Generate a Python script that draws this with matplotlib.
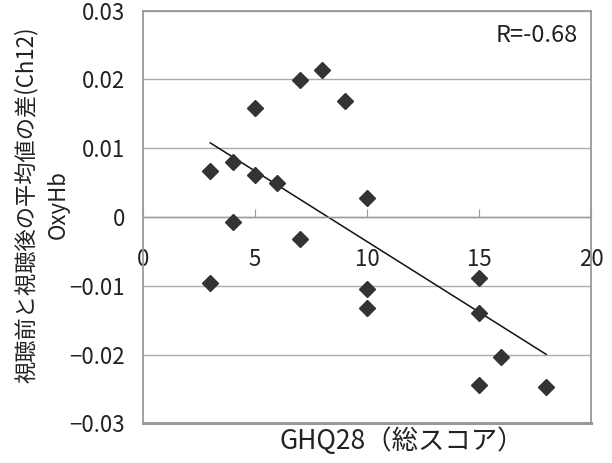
import numpy as np
import matplotlib
matplotlib.use('Agg')
import matplotlib.pyplot as plt

plt.rcParams['font.family'] = ['Noto Sans CJK JP', 'DejaVu Sans']

# GHQ28 total score vs OxyHb difference (Ch12)
ghq = [3, 4, 5, 5, 6, 7, 8, 9, 10, 4, 7, 3, 10, 10, 15, 15, 16, 15, 18]
oxyhb = [0.0067, 0.0080, 0.0159, 0.0061, 0.0050, 0.0199, 0.0214, 0.0168, 0.0028,
         -0.0007, -0.0032, -0.0096, -0.0104, -0.0133, -0.0088, -0.0139, -0.0204,
         -0.0244, -0.0247]
x_ticks = [0, 5, 10, 15, 20]
y_ticks = [-0.03, -0.02, -0.01, 0, 0.01, 0.02, 0.03]
y_labels = ['−0.03', '−0.02', '−0.01', '0', '0.01', '0.02', '0.03']
r_text = 'R=-0.68'

frame = '#999999'
txt = '#222222'

fig = plt.figure(figsize=(6.12, 4.63), dpi=100)
ax = fig.add_axes([0.2337, 0.0857, 0.7320, 0.8912])

ax.set_xlim(0, 20)
ax.set_ylim(-0.03, 0.03)

ax.yaxis.grid(True, color='#aaaaaa', lw=1)
ax.set_axisbelow(True)

for s in ['left', 'right', 'top']:
    ax.spines[s].set_color(frame)
    ax.spines[s].set_linewidth(1.3)
ax.spines['bottom'].set_position(('data', 0))
ax.spines['bottom'].set_color(frame)
ax.spines['bottom'].set_linewidth(1.0)
ax.axhline(-0.03, color=frame, lw=2.2, clip_on=False)

ax.set_xticks(x_ticks)
ax.set_xticklabels([str(t) for t in x_ticks])
ax.tick_params(axis='x', direction='in', length=6, color=frame, pad=22,
               labelsize=16, labelcolor=txt)
ax.set_yticks(y_ticks)
ax.set_yticklabels(y_labels)
ax.tick_params(axis='y', length=0, pad=13, labelsize=16, labelcolor=txt)

ax.plot(ghq, oxyhb, 'D', color='#333333', ms=8, zorder=3)

# linear trend
k, b = np.polyfit(ghq, oxyhb, 1)
xs = np.array([min(ghq), max(ghq)])
ax.plot(xs, k * xs + b, color='#111111', lw=1.1, zorder=2)

ax.text(0.971, 0.939, r_text, transform=ax.transAxes, ha='right', va='center',
        fontsize=17, color=txt)

ax.set_ylabel('視聴前と視聴後の平均値の差(Ch12)\nOxyHb', fontsize=16, color=txt,
              linespacing=1.5)
ax.yaxis.set_label_coords(-0.225, 0.529)
ax.set_xlabel('GHQ28（総スコア）', fontsize=19, color=txt)
ax.xaxis.set_label_coords(0.578, -0.043)
ax.xaxis.label.set_va('center')
ax.yaxis.label.set_va('center')

fig.savefig('out.png', dpi=100)
